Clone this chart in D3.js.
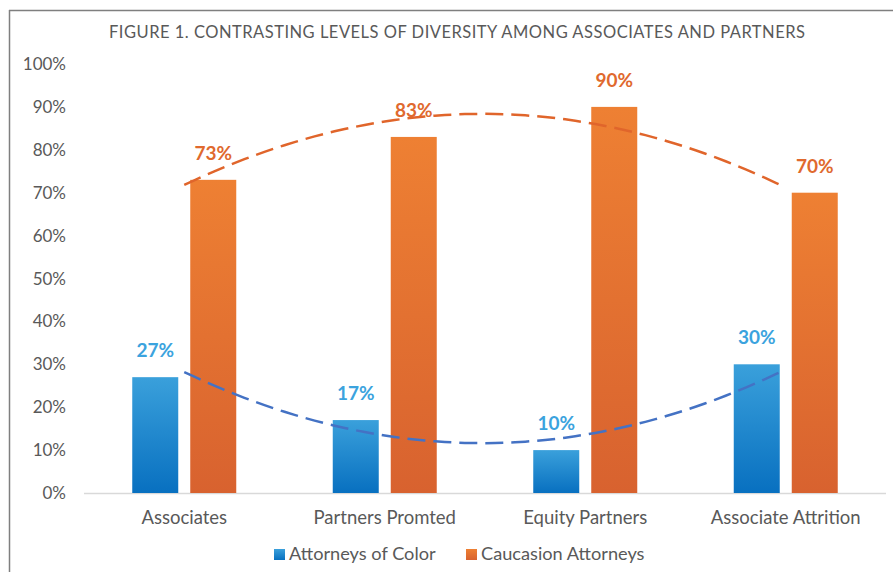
<!DOCTYPE html>
<html>
<head>
<meta charset="utf-8">
<script src="https://cdn.jsdelivr.net/npm/d3@7"></script>
<style>
  body { margin: 0; background: #fff; }
  svg { display: block; font-family: Lato, "Open Sans", sans-serif; }
</style>
</head>
<body>
<svg id="chart" width="893" height="572"></svg>
<script>
// data
var categories = ["Associates", "Partners Promted", "Equity Partners", "Associate Attrition"];
var colorValues = [27, 17, 10, 30];
var caucasianValues = [73, 83, 90, 70];
var seriesNames = ["Attorneys of Color", "Caucasion Attorneys"];
var yTicks = [0, 10, 20, 30, 40, 50, 60, 70, 80, 90, 100];
var title = "FIGURE 1. CONTRASTING LEVELS OF DIVERSITY AMONG ASSOCIATES AND PARTNERS";

var svg = d3.select("#chart");

// frame lines (left + top, the rest is cut off)
svg.append("line").attr("x1", 9.5).attr("x2", 9.5).attr("y1", 10).attr("y2", 572)
  .attr("stroke", "#7f7f7f").attr("stroke-width", 1.5);
svg.append("line").attr("x1", 9).attr("x2", 893).attr("y1", 10.5).attr("y2", 10.5)
  .attr("stroke", "#7f7f7f").attr("stroke-width", 1.5);

// gradients
var defs = svg.append("defs");
function grad(id, top, bottom) {
  var g = defs.append("linearGradient").attr("id", id)
    .attr("x1", 0).attr("y1", 0).attr("x2", 0).attr("y2", 1);
  g.append("stop").attr("offset", "0%").attr("stop-color", top);
  g.append("stop").attr("offset", "100%").attr("stop-color", bottom);
}
grad("gBlue", "#3aa0db", "#0870c0");
grad("gOrange", "#ee8033", "#d8622f");

var x = d3.scaleBand().domain(categories).range([84, 886]);
var y = d3.scaleLinear().domain([0, 100]).range([493, 64]);

// title
svg.append("text")
  .attr("x", 457).attr("y", 38)
  .attr("text-anchor", "middle")
  .attr("font-size", 16.5)
  .attr("fill", "#595959")
  .attr("textLength", 696)
  .attr("lengthAdjust", "spacing")
  .text(title);

// y axis labels
svg.append("g").selectAll("text")
  .data(yTicks)
  .enter().append("text")
  .attr("x", 66)
  .attr("y", function (d) { return y(d) + 6; })
  .attr("text-anchor", "end")
  .attr("font-size", 17)
  .attr("fill", "#595959")
  .text(function (d) { return d + "%"; });

// baseline
svg.append("line")
  .attr("x1", 84).attr("x2", 886)
  .attr("y1", y(0) + 0.5).attr("y2", y(0) + 0.5)
  .attr("stroke", "#d9d9d9").attr("stroke-width", 1.5);

// x labels
svg.append("g").selectAll("text")
  .data(categories)
  .enter().append("text")
  .attr("x", function (d) { return x(d) + x.bandwidth() / 2; })
  .attr("y", 524)
  .attr("text-anchor", "middle")
  .attr("font-size", 18.5)
  .attr("fill", "#595959")
  .text(function (d) { return d; });

// bars
var barW = 46, gap = 12;
var series = [
  { values: colorValues, fill: "url(#gBlue)", label: "#3ba3de", trend: "#4472c4", offset: -(gap / 2 + barW) },
  { values: caucasianValues, fill: "url(#gOrange)", label: "#e0692e", trend: "#e0652b", offset: gap / 2 }
];

series.forEach(function (s) {
  svg.append("g").selectAll("rect")
    .data(categories)
    .enter().append("rect")
    .attr("x", function (d) { return x(d) + x.bandwidth() / 2 + s.offset; })
    .attr("y", function (d, i) { return y(s.values[i]); })
    .attr("width", barW)
    .attr("height", function (d, i) { return y(0) - y(s.values[i]); })
    .attr("fill", s.fill);

  svg.append("g").selectAll("text")
    .data(categories)
    .enter().append("text")
    .attr("x", function (d) { return x(d) + x.bandwidth() / 2 + s.offset + barW / 2; })
    .attr("y", function (d, i) { return y(s.values[i]) - 20; })
    .attr("text-anchor", "middle")
    .attr("font-size", 19)
    .attr("font-weight", "bold")
    .attr("fill", s.label)
    .text(function (d, i) { return s.values[i] + "%"; });
});

// polynomial (order 2) trendlines, like Excel, at category centres
function quadFit(vals) {
  var n = vals.length, xs = vals.map(function (v, i) { return i + 1; });
  var m = d3.mean(xs);
  var t = xs.map(function (v) { return v - m; });
  var s2 = d3.sum(t, function (v) { return v * v; });
  var s4 = d3.sum(t, function (v) { return v * v * v * v; });
  var sy = d3.sum(vals), sty = d3.sum(vals, function (v, i) { return t[i] * v; });
  var st2y = d3.sum(vals, function (v, i) { return t[i] * t[i] * v; });
  var b = sty / s2;
  var c = (st2y - s2 * sy / n) / (s4 - s2 * s2 / n);
  var a = (sy - c * s2) / n;
  return function (xv) { var tt = xv - m; return a + b * tt + c * tt * tt; };
}

var step = x.step(), x0 = x(categories[0]) + x.bandwidth() / 2;
series.forEach(function (s) {
  var f = quadFit(s.values);
  var pts = d3.range(1, categories.length + 0.001, 0.05);
  svg.append("path")
    .datum(pts)
    .attr("fill", "none")
    .attr("stroke", s.trend)
    .attr("stroke-width", 2.5)
    .attr("stroke-dasharray", "18,8")
    .attr("d", d3.line()
      .x(function (d) { return x0 + (d - 1) * step; })
      .y(function (d) { return y(f(d)); }));
});

// legend
var legend = [
  { name: seriesNames[0], fill: "url(#gBlue)", x: 274 },
  { name: seriesNames[1], fill: "url(#gOrange)", x: 466 }
];
legend.forEach(function (l) {
  svg.append("rect").attr("x", l.x).attr("y", 549).attr("width", 11).attr("height", 11).attr("fill", l.fill);
  svg.append("text").attr("x", l.x + 15).attr("y", 560)
    .attr("font-size", 18.2).attr("fill", "#595959").text(l.name);
});
</script>
</body>
</html>
